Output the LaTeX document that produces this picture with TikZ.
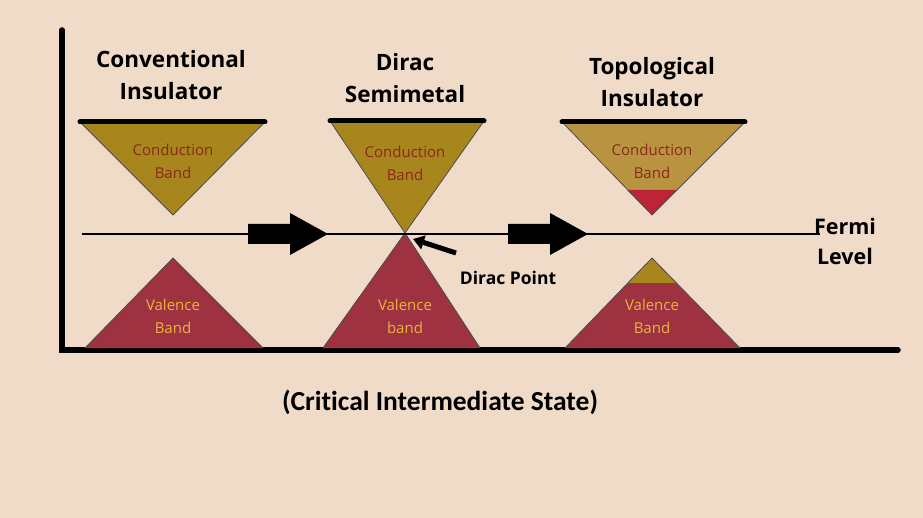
\documentclass[tikz,border=0pt]{standalone}
\usepackage{fontspec}
\setmainfont{Open Sans}
\newfontfamily\capfont[Ligatures=NoCommon]{Carlito}
\usepackage{xcolor}
\usetikzlibrary{arrows.meta, positioning}

\definecolor{paper}{RGB}{240,218,200}
\definecolor{condgold}{RGB}{168,134,30}
\definecolor{condtan}{RGB}{184,148,64}
\definecolor{valred}{RGB}{158,50,64}
\definecolor{hotred}{RGB}{190,36,56}
\definecolor{condtext}{RGB}{140,40,26}
\definecolor{valtext}{RGB}{236,178,64}

\begin{document}
\begin{tikzpicture}[x=1pt, y=-1pt,
    title/.style={font=\bfseries\fontsize{22.5}{32}\selectfont, align=center},
    bandlabel/.style={font=\fontsize{15}{23}\selectfont, align=center},
    condlabel/.style={bandlabel, text=condtext},
    vallabel/.style={bandlabel, text=valtext},
    band/.style={draw=black!70, line width=0.8pt, line join=round},
    axis/.style={line width=5.5pt, line cap=round},
    topbar/.style={line width=5pt, line cap=round},
    fermi/.style={line width=1.6pt},
    blockarrow/.pic={\fill[black] (0,-10)--(42,-10)--(42,-21)--(80,0)--(42,21)--(42,10)--(0,10)--cycle;}
]
\useasboundingbox (0,0) rectangle (923,518);
\fill[paper] (0,0) rectangle (923,518);

% Axes
\coordinate (origin) at (62,350);
\coordinate (ytop) at (62,30);
\coordinate (xend) at (898,350);
\draw[axis] (ytop) -- (origin) -- (xend);

% Conventional insulator
\fill[condgold] (80,122) -- (265,122) -- (173,215) -- cycle;
\draw[band] (80,122) -- (173,215) -- (265,122);
\fill[valred] (85,348) -- (173,258) -- (263,348) -- cycle;
\draw[band] (85,348) -- (173,258) -- (263,348);
\draw[topbar] (80,122) -- (265,122);

% Dirac semimetal
\coordinate (dirac) at (405,233);
\fill[condgold] (330,121) -- (484,121) -- (dirac) -- cycle;
\draw[band] (330,121) -- (dirac) -- (484,121);
\fill[valred] (323,348) -- (dirac) -- (480,348) -- cycle;
\draw[band] (323,348) -- (dirac) -- (480,348);
\draw[topbar] (330,121) -- (484,121);

% Topological insulator
\fill[condtan] (562,122) -- (745,122) -- (652,215) -- cycle;
\fill[hotred] (627,190) -- (677,190) -- (652,215) -- cycle;
\draw[band] (562,122) -- (652,215) -- (745,122);
\fill[valred] (565,348) -- (652,258) -- (740,348) -- cycle;
\fill[condgold] (628,283) -- (652,258) -- (676,283) -- cycle;
\draw[band] (565,348) -- (652,258) -- (740,348);
\draw[topbar] (562,122) -- (745,122);

% Fermi level
\coordinate (fstart) at (82,234);
\coordinate (fend) at (820,234);
\draw[fermi] (fstart) -- (fend);

% Block arrows
\pic at (248,234) {blockarrow};
\pic at (508,234) {blockarrow};

% Titles
\node[title] (conv) at (171,75) {Conventional\\Insulator};
\node[title] (dsm) at (405,78) {Dirac\\Semimetal};
\node[title] (topo) at (652,82) {Topological\\Insulator};

% Band labels
\node[condlabel] (cb1) at (173,161) {Conduction\\Band};
\node[vallabel] (vb1) at (173,316) {Valence\\Band};
\node[condlabel] (cb2) at (405,163) {Conduction\\Band};
\node[vallabel] (vb2) at (405,316) {Valence\\band};
\node[condlabel] (cb3) at (652,161) {Conduction\\Band};
\node[vallabel] (vb3) at (652,316) {Valence\\Band};

% Dirac point
\node[font=\bfseries\fontsize{17.5}{20}\selectfont] (dpoint) at (508,278) {Dirac Point};
\coordinate (dtail) at (456,253);
\draw[-{Triangle[length=11pt,width=14pt]}, line width=5pt] (dtail) -- (413,239);

% Fermi level label
\node[title, font=\bfseries\fontsize{21.5}{30}\selectfont] (flevel) at (845,241) {Fermi\\Level};

% Caption
\node[font=\capfont\bfseries\fontsize{27.5}{32}\selectfont] (caption) at (440,402) {(Critical Intermediate State)};

\end{tikzpicture}
\end{document}
